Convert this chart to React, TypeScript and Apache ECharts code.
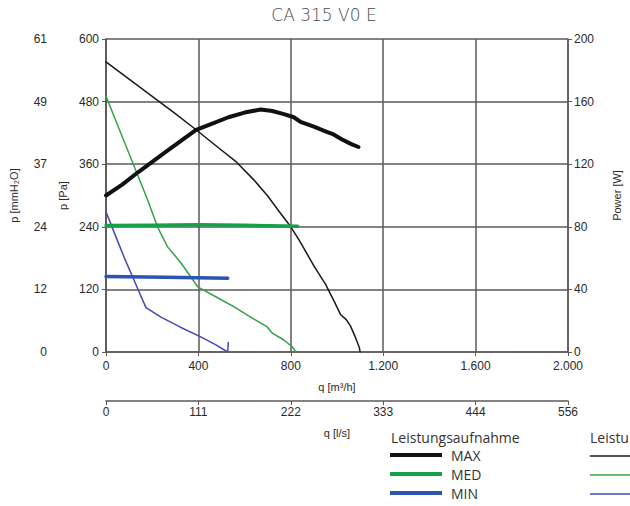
import React, { useEffect, useRef } from "react";
import * as echarts from "echarts";

// Airflow q [m³/h] vs pressure [Pa] (Kennlinie) and power [W] (Leistungsaufnahme)
const maxPressure: [number, number][] = [
  [0, 556], [100, 523], [200, 490], [300, 457], [390, 426], [480, 394], [560, 366],
  [640, 330], [700, 299], [760, 263], [800, 240], [842, 210], [900, 165], [950, 130],
  [990, 95], [1015, 72], [1040, 62], [1058, 50], [1080, 28], [1097, 8], [1100, 0],
];
const medPressure: [number, number][] = [
  [0, 490], [60, 424], [120, 358], [180, 292], [223, 240], [266, 202], [324, 171],
  [397, 125], [483, 104], [553, 87], [626, 67], [698, 48], [720, 36], [770, 23],
  [806, 10], [822, 0],
];
const minPressure: [number, number][] = [
  [0, 269], [40, 224], [80, 180], [121, 138], [173, 85], [238, 67], [320, 48],
  [410, 29], [470, 15], [527, 0], [529, 18],
];
const maxPower: [number, number][] = [
  [0, 100], [70, 107], [140, 115], [260, 128], [390, 142], [460, 146], [530, 150],
  [600, 153], [670, 155], [720, 154], [770, 152], [813, 150], [842, 147], [900, 144],
  [950, 141], [985, 139], [1020, 136], [1060, 133], [1093, 131],
];
const medPower: [number, number][] = [
  [0, 80.8], [200, 81], [400, 81.3], [600, 81], [830, 80.3],
];
const minPower: [number, number][] = [
  [0, 48.3], [260, 47.7], [527, 47.2],
];

const qM3hLabels = ["0", "400", "800", "1.200", "1.600", "2.000"];
const qLsLabels = ["0", "111", "222", "333", "444", "556"];
const paLabels = ["0", "120", "240", "360", "480", "600"];
const mmLabels = ["0", "12", "24", "37", "49", "61"];
const powerLabels = ["0", "40", "80", "120", "160", "200"];
const speedNames = ["MAX", "MED", "MIN"];
const curveNames = ["Kennlinie MAX", "Kennlinie MED", "Kennlinie MIN"];
const curveColors = ["#1a1a1a", "#33a348", "#4548b8"];
const powerColors = ["#111111", "#16a04a", "#2b55b5"];

const TICK_FONT = "Liberation Sans";
const UI_FONT = "Open Sans";

export default function App() {
  const ref = useRef<HTMLDivElement>(null);
  useEffect(() => {
    if (!ref.current) return;
    const chart = echarts.init(ref.current, undefined, { renderer: "svg" });
    const axisColor = "#5f5858";
    const labelStyle = { fontFamily: TICK_FONT, fontSize: 12, lineHeight: 12, color: "#2a2a2a" };
    const nameStyle = { fontFamily: TICK_FONT, fontSize: 11, color: "#2a2a2a" };
    const idx = (v: number, step: number, arr: string[]) => arr[Math.round(v / step)] ?? "";

    const lineSeries = (name: string, data: [number, number][], color: string, width: number, yAxisIndex: number, z: number) => ({
      name,
      type: "line",
      data,
      xAxisIndex: 0,
      yAxisIndex,
      showSymbol: false,
      symbol: "none",
      smooth: false,
      z,
      itemStyle: { color },
      lineStyle: { color, width, join: "round", cap: "round" },
    });

    // second (cut-off) legend block: swatches only
    const curveSwatches = curveColors.map((c, i) => ({
      type: "line",
      shape: { x1: 590, y1: 456 + i * 19, x2: 630, y2: 456 + i * 19 },
      style: { stroke: c, lineWidth: 1.5 },
    }));

    chart.setOption({
      animation: false,
      grid: { left: 105, right: 62, top: 39, bottom: 154, containLabel: false },
      xAxis: [
        {
          type: "value",
          position: "bottom",
          min: 0,
          max: 2000,
          interval: 400,
          name: "q [m³/h]",
          nameLocation: "middle",
          nameGap: 29,
          nameTextStyle: nameStyle,
          axisLine: { show: true, onZero: false, lineStyle: { color: axisColor, width: 1.5 } },
          axisTick: { show: true, length: 4, lineStyle: { color: axisColor } },
          axisLabel: { ...labelStyle, margin: 8, formatter: (v: number) => idx(v, 400, qM3hLabels) },
          splitLine: { show: true, lineStyle: { color: axisColor, width: 1.5 } },
        },
        {
          type: "value",
          position: "bottom",
          offset: 49,
          min: 0,
          max: 2000,
          interval: 400,
          name: "q [l/s]",
          nameLocation: "middle",
          nameGap: 26,
          nameTextStyle: nameStyle,
          axisLine: { show: true, onZero: false, lineStyle: { color: axisColor, width: 1.5 } },
          axisTick: { show: true, length: 4, lineStyle: { color: axisColor } },
          axisLabel: { ...labelStyle, margin: 5, formatter: (v: number) => idx(v, 400, qLsLabels) },
          splitLine: { show: false },
        },
      ],
      yAxis: [
        {
          type: "value",
          position: "left",
          min: 0,
          max: 600,
          interval: 120,
          name: "p [Pa]",
          nameLocation: "middle",
          nameGap: 37,
          nameRotate: 90,
          nameTextStyle: nameStyle,
          axisLine: { show: true, lineStyle: { color: axisColor, width: 1.5 } },
          axisTick: { show: true, length: 4, lineStyle: { color: axisColor } },
          axisLabel: { ...labelStyle, margin: 7, formatter: (v: number) => idx(v, 120, paLabels) },
          splitLine: { show: true, lineStyle: { color: axisColor, width: 1.5 } },
        },
        {
          type: "value",
          position: "left",
          offset: 53,
          min: 0,
          max: 600,
          interval: 120,
          name: "p [mmH₂O]",
          nameLocation: "middle",
          nameGap: 34,
          nameRotate: 90,
          nameTextStyle: nameStyle,
          axisLine: { show: true, lineStyle: { color: axisColor, width: 1.5 } },
          axisTick: { show: true, length: 4, lineStyle: { color: axisColor } },
          axisLabel: { ...labelStyle, margin: 6, formatter: (v: number) => idx(v, 120, mmLabels) },
          splitLine: { show: false },
        },
        {
          type: "value",
          position: "right",
          min: 0,
          max: 200,
          interval: 40,
          name: "Power [W]",
          nameLocation: "middle",
          nameGap: 43,
          nameRotate: 90,
          nameTextStyle: nameStyle,
          axisLine: { show: true, lineStyle: { color: axisColor, width: 1.5 } },
          axisTick: { show: true, length: 4, lineStyle: { color: axisColor } },
          axisLabel: {
            ...labelStyle,
            margin: 6,
            formatter: (v: number) => idx(v, 40, powerLabels),
            verticalAlign: "bottom",
            padding: [0, 0, -6, 0],
          },
          splitLine: { show: false },
        },
      ],
      legend: {
        orient: "vertical",
        left: 390,
        top: 447,
        padding: 0,
        itemWidth: 52,
        itemHeight: 4,
        itemGap: 3,
        icon: "rect",
        selectedMode: false,
        data: speedNames,
        textStyle: { fontFamily: UI_FONT, fontSize: 14, color: "#333", lineHeight: 16, padding: [0, 0, 0, 4] },
      },
      graphic: [
        {
          type: "text",
          x: 324,
          y: 15,
          style: {
            text: "CA 315 V0 E",
            fontFamily: "DejaVu Sans",
            fontSize: 17,
            fontWeight: 300,
            fill: "#4a4a4a",
            align: "center",
            verticalAlign: "middle",
          },
        },
        {
          type: "text",
          x: 391,
          y: 437,
          style: { text: "Leistungsaufnahme", fontFamily: UI_FONT, fontSize: 14, fill: "#333", verticalAlign: "middle" },
        },
        {
          type: "text",
          x: 590,
          y: 437,
          style: { text: "Leistu", fontFamily: UI_FONT, fontSize: 14, fill: "#333", verticalAlign: "middle" },
        },
        ...curveSwatches,
      ],
      series: [
        lineSeries(curveNames[0], maxPressure, curveColors[0], 1.5, 0, 3),
        lineSeries(curveNames[1], medPressure, curveColors[1], 1.5, 0, 3),
        lineSeries(curveNames[2], minPressure, curveColors[2], 1.5, 0, 3),
        lineSeries(speedNames[0], maxPower, powerColors[0], 4, 2, 4),
        lineSeries(speedNames[1], medPower, powerColors[1], 3.5, 2, 4),
        lineSeries(speedNames[2], minPower, powerColors[2], 3.5, 2, 4),
      ],
    });
    return () => chart.dispose();
  }, []);
  return <div ref={ref} style={{ position: "absolute", left: 0, top: 0, width: 630, height: 506 }} />;
}
